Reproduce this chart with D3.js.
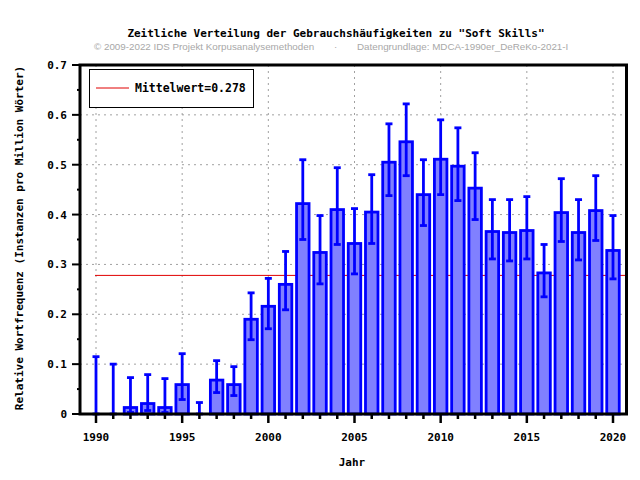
<!DOCTYPE html>
<html>
<head>
<meta charset="utf-8">
<script src="https://cdn.jsdelivr.net/npm/d3@7"></script>
<style>
body { margin: 0; background: #fff; }
svg { display: block; }
</style>
</head>
<body>
<svg id="chart" width="640" height="480"></svg>
<script>
const years = [1990,1991,1992,1993,1994,1995,1996,1997,1998,1999,2000,2001,2002,2003,2004,2005,2006,2007,2008,2009,2010,2011,2012,2013,2014,2015,2016,2017,2018,2019,2020];
const values = [0,0,0.013,0.021,0.013,0.059,0,0.068,0.059,0.190,0.216,0.260,0.422,0.324,0.410,0.342,0.405,0.505,0.546,0.440,0.511,0.497,0.453,0.366,0.364,0.368,0.283,0.404,0.364,0.408,0.328];
const errLow = [0,0,0.003,0.007,0.003,0.029,0,0.043,0.037,0.149,0.171,0.209,0.350,0.261,0.340,0.281,0.342,0.438,0.478,0.378,0.440,0.428,0.390,0.311,0.307,0.311,0.235,0.346,0.309,0.348,0.271];
const errHigh = [0.115,0.100,0.073,0.079,0.071,0.121,0.023,0.107,0.095,0.243,0.272,0.326,0.510,0.398,0.494,0.412,0.480,0.582,0.622,0.510,0.590,0.574,0.524,0.430,0.430,0.436,0.340,0.472,0.430,0.478,0.398];
const meanValue = 0.278;
const yTicks = [0,0.1,0.2,0.3,0.4,0.5,0.6,0.7];
const xTicks = [1990,1995,2000,2005,2010,2015,2020];
const titleText = 'Zeitliche Verteilung der Gebrauchshäufigkeiten zu "Soft Skills"';
const creditLeft = '© 2009-2022 IDS Projekt Korpusanalysemethoden';
const creditRight = 'Datengrundlage: MDCA-1990er_DeReKo-2021-I';
const yLabel = 'Relative Wortfrequenz (Instanzen pro Million Wörter)';
const xLabel = 'Jahr';
const legendLabel = 'Mittelwert=0.278';

const svg = d3.select('#chart');
const L = 80, R = 626.5, T = 65, B = 414;
const x = d3.scaleLinear().domain([1990, 2020]).range([96, 613]);
const y = d3.scaleLinear().domain([0, 0.7]).range([B, T]);
const mono = '"DejaVu Sans Mono", monospace';
const blue = '#0000ff';

// grid
const g = svg.append('g');
g.selectAll('.hg').data(yTicks.filter(v => v > 0 && v < 0.7)).enter().append('line')
  .attr('x1', L).attr('x2', R).attr('y1', d => y(d)).attr('y2', d => y(d))
  .attr('stroke', '#a0a0a0').attr('stroke-width', 1).attr('stroke-dasharray', '2,4');
g.selectAll('.vg').data(xTicks).enter().append('line')
  .attr('x1', d => x(d)).attr('x2', d => x(d)).attr('y1', T).attr('y2', B)
  .attr('stroke', '#a0a0a0').attr('stroke-width', 1).attr('stroke-dasharray', '2,4');

// mean line
svg.append('line').attr('x1', x(1990) - 1).attr('x2', R).attr('y1', y(meanValue)).attr('y2', y(meanValue))
  .attr('stroke', '#e00000').attr('stroke-width', 1);

// bars
const data = years.map((yr, i) => ({yr, v: values[i], lo: errLow[i], hi: errHigh[i]}));
const bw = 12.5;
svg.selectAll('.bar').data(data.filter(d => d.v > 0)).enter().append('rect')
  .attr('x', d => x(d.yr) - bw / 2).attr('width', bw)
  .attr('y', d => y(d.v)).attr('height', d => B - y(d.v))
  .attr('fill', '#8080ff').attr('stroke', blue).attr('stroke-width', 2.8);

// error bars
const eb = svg.append('g').attr('stroke', blue).attr('stroke-width', 2.8);
eb.selectAll('.ev').data(data).enter().append('line')
  .attr('x1', d => x(d.yr)).attr('x2', d => x(d.yr)).attr('y1', d => y(d.lo)).attr('y2', d => y(d.hi));
eb.selectAll('.eh').data(data).enter().append('line')
  .attr('x1', d => x(d.yr) - 3.5).attr('x2', d => x(d.yr) + 3.5).attr('y1', d => y(d.hi)).attr('y2', d => y(d.hi));
eb.selectAll('.el').data(data).enter().append('line')
  .attr('x1', d => x(d.yr) - 3.5).attr('x2', d => x(d.yr) + 3.5).attr('y1', d => y(d.lo)).attr('y2', d => y(d.lo));

// frame
svg.append('rect').attr('x', L).attr('y', T).attr('width', R - L).attr('height', B - T)
  .attr('fill', 'none').attr('stroke', '#000').attr('stroke-width', 3);

// y axis ticks
const yMinor = d3.range(0.05, 0.7, 0.1);
svg.selectAll('.yt').data(yTicks).enter().append('line')
  .attr('x1', L - 8).attr('x2', L).attr('y1', d => y(d)).attr('y2', d => y(d))
  .attr('stroke', '#000').attr('stroke-width', 2);
svg.selectAll('.ytm').data(yMinor).enter().append('line')
  .attr('x1', L - 3).attr('x2', L).attr('y1', d => y(d)).attr('y2', d => y(d))
  .attr('stroke', '#000').attr('stroke-width', 2);
svg.selectAll('.yl').data(yTicks).enter().append('text')
  .attr('x', 67).attr('y', d => y(d) + 4).attr('text-anchor', 'end')
  .attr('font-family', mono).attr('font-weight', 'bold').attr('font-size', 11)
  .text(d => d === 0 ? '0' : d3.format('.1f')(d));

// x axis ticks
svg.selectAll('.xt').data(years).enter().append('line')
  .attr('x1', d => x(d)).attr('x2', d => x(d)).attr('y1', B)
  .attr('y2', d => xTicks.includes(d) ? B + 9 : B + 5)
  .attr('stroke', '#000').attr('stroke-width', 2.5);
svg.selectAll('.xl').data(xTicks).enter().append('text')
  .attr('x', d => x(d)).attr('y', 441).attr('text-anchor', 'middle')
  .attr('font-family', mono).attr('font-weight', 'bold').attr('font-size', 11)
  .text(d => d);

// labels
svg.append('text').attr('x', 352).attr('y', 466).attr('text-anchor', 'middle')
  .attr('font-family', mono).attr('font-weight', 'bold').attr('font-size', 11).text(xLabel);
svg.append('text').attr('transform', 'translate(23,238) rotate(-90)').attr('text-anchor', 'middle')
  .attr('font-family', mono).attr('font-weight', 'bold').attr('font-size', 11).text(yLabel);
svg.append('text').attr('x', 336).attr('y', 37).attr('text-anchor', 'middle')
  .attr('font-family', mono).attr('font-weight', 'bold').attr('font-size', 11).text(titleText);
const sans = '"Liberation Sans", Arial, sans-serif';
svg.append('text').attr('x', 94).attr('y', 50).attr('font-family', sans).attr('font-size', 9.8)
  .attr('fill', '#a8a8a8').text(creditLeft);
svg.append('text').attr('x', 334).attr('y', 50).attr('font-family', sans).attr('font-size', 9.8)
  .attr('fill', '#a8a8a8').text('·');
svg.append('text').attr('x', 357).attr('y', 50).attr('font-family', sans).attr('font-size', 9.8)
  .attr('fill', '#a8a8a8').text(creditRight);

// legend
svg.append('rect').attr('x', 89.5).attr('y', 69.5).attr('width', 164).attr('height', 38)
  .attr('fill', '#fff').attr('stroke', '#000').attr('stroke-width', 1);
svg.append('line').attr('x1', 96).attr('x2', 129).attr('y1', 88).attr('y2', 88)
  .attr('stroke', '#e00000').attr('stroke-width', 1);
svg.append('text').attr('x', 135).attr('y', 92).attr('font-family', mono).attr('font-weight', 'bold')
  .attr('font-size', 11.5).text(legendLabel);
</script>
</body>
</html>
